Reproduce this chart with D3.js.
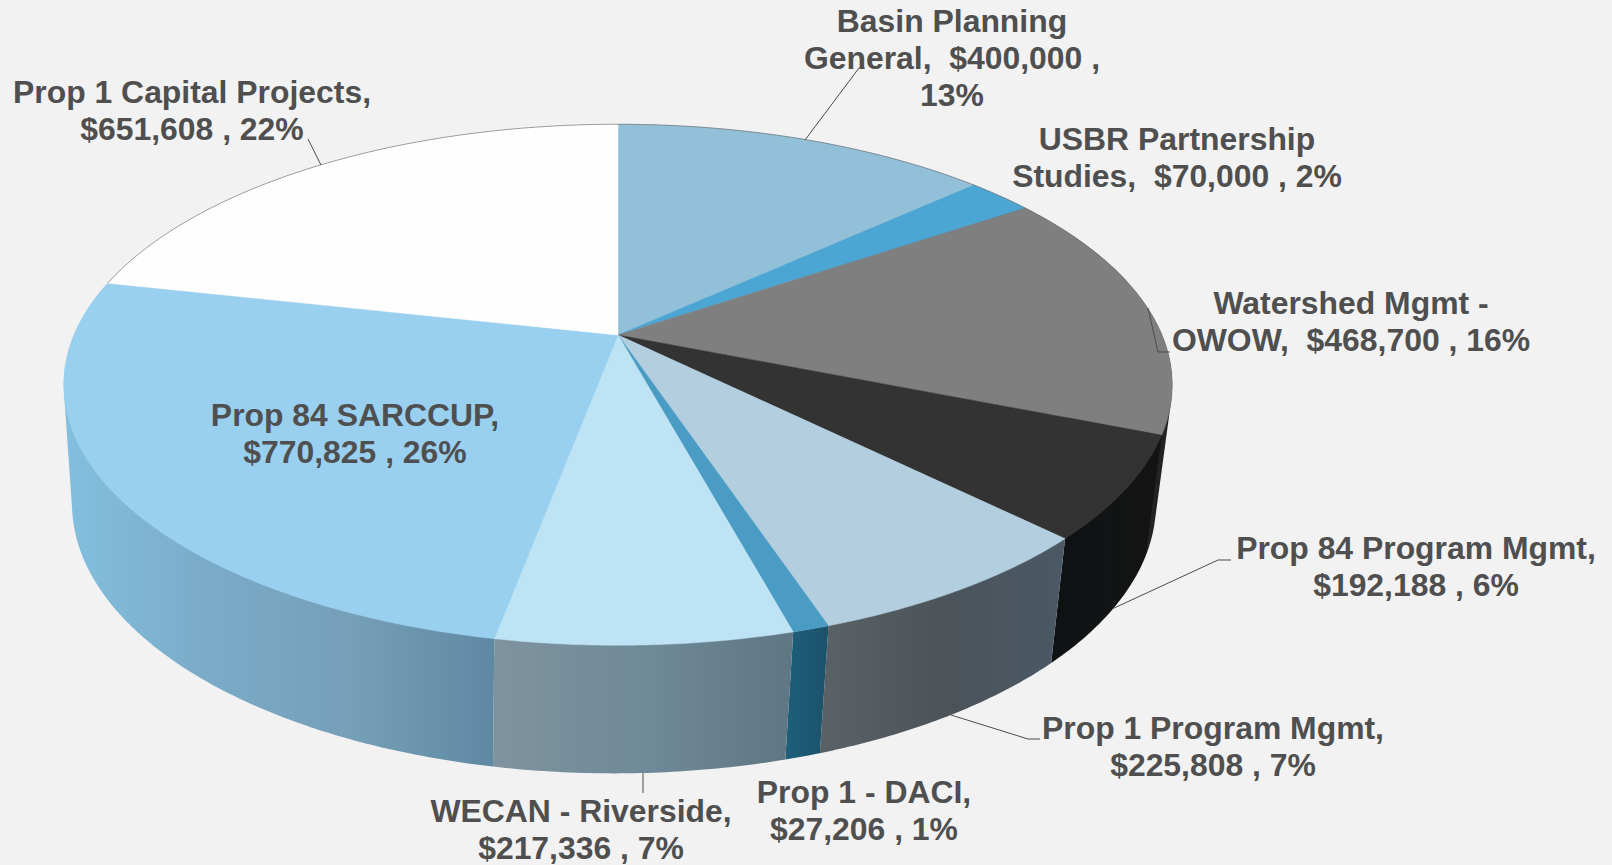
<!DOCTYPE html>
<html><head><meta charset="utf-8">
<style>html,body{margin:0;padding:0;background:#f2f2f2;overflow:hidden}svg{display:block}</style>
<script src="https://cdn.jsdelivr.net/npm/d3@7"></script></head><body>
<svg id="c" width="1612" height="865"></svg>
<script>
const categories=["Basin Planning General","USBR Partnership Studies","Watershed Mgmt - OWOW","Prop 84 Program Mgmt","Prop 1 Program Mgmt","Prop 1 - DACI","WECAN - Riverside","Prop 84 SARCCUP","Prop 1 Capital Projects"];
const values=[400000,70000,468700,192188,225808,27206,217336,770825,651608];
const percentLabels=["13%","2%","16%","6%","7%","1%","7%","26%","22%"];
const labelLines=[
 ["Basin Planning","General,  $400,000 ,","13%"],
 ["USBR Partnership","Studies,  $70,000 , 2%"],
 ["Watershed Mgmt -","OWOW,  $468,700 , 16%"],
 ["Prop 84 Program Mgmt,","$192,188 , 6%"],
 ["Prop 1 Program Mgmt,","$225,808 , 7%"],
 ["Prop 1 - DACI,","$27,206 , 1%"],
 ["WECAN - Riverside,","$217,336 , 7%"],
 ["Prop 84 SARCCUP,","$770,825 , 26%"],
 ["Prop 1 Capital Projects,","$651,608 , 22%"]];
const topColors=["#93c0d9","#4ba6d3","#7f7f7f","#333333","#b3cfdf","#4a9cc4","#bde3f5","#9ad0ef","#fefefe"];
const wallStops=[["#7d9fb2","#7d9fb2"],["#3a7d9e","#3a7d9e"],["#2a2a2a","#222222"],["#0f1213","#111314","#141312"],["#5a6167","#4c5359","#4a5965"],["#1e5f7c","#1b5269"],["#7f939f","#6f8a99","#5f7683"],["#84bfdf","#7aabc8","#769fb8","#5f88a2"],["#aaaaaa","#aaaaaa"]];
// label layout (page space)
const labelPos=[[952,32],[1177,150],[1351,314],[1416,559],[1213,739],[864,803],[581,822],[355,426],[192,103]];
const leaders=[[[805,140],[859,68],[865,68]],[],[[1148,308],[1158,352],[1170,352]],[[1112,609],[1218,560],[1231,560]],[[951,715],[1028,739],[1040,739]],[],[[643,773],[643,793]],[],[[321,165],[308,139]]];

const apex={x:618,y:335},R=544,persp=.191,tilt=251;
const lower={x:614,y:452,R:532,tilt:260};
const project=(a,low=false)=>{
  const x=Math.sin(a),z=-Math.cos(a),s=1/(1-persp*z);
  return low?[lower.x+lower.R*x*s,lower.y+lower.tilt*z*s]:[apex.x+R*x*s,apex.y+tilt*z*s];
};
const svg=d3.select("#c");
const defs=svg.append("defs");
const pie=d3.pie().sort(null).value(d=>d.v).startAngle(0).endAngle(2*Math.PI);
const arcs=pie(values.map((v,i)=>({v,i})));
const line=d3.line();
const samples=(a0,a1)=>{const n=Math.max(4,Math.ceil((a1-a0)/.01));return d3.range(n+1).map(i=>a0+(a1-a0)*i/n)};

arcs.forEach(d=>{
  const g=defs.append("linearGradient").attr("id","w"+d.index);
  const st=wallStops[d.index],sc=d3.scaleLinear().domain([0,st.length-1]).range([0,100]);
  st.forEach((c,j)=>g.append("stop").attr("offset",sc(j)+"%").attr("stop-color",c));
});
// walls back to front; each is the hull of its slice's upper and lower arcs
const wallOrder=[...arcs].sort((a,b)=>(-Math.cos((a.startAngle+a.endAngle)/2))-(-Math.cos((b.startAngle+b.endAngle)/2)));
svg.append("g").selectAll("path").data(wallOrder).join("path")
  .attr("d",d=>{const s=samples(d.startAngle,d.endAngle);
    return line(d3.polygonHull([...s.map(a=>project(a)),...s.map(a=>project(a,true))]))+"Z"})
  .attr("fill",d=>`url(#w${d.index})`);
// top faces
svg.append("g").selectAll("path").data(arcs).join("path")
  .attr("d",d=>line([[apex.x,apex.y],...samples(d.startAngle,d.endAngle).map(a=>project(a))])+"Z")
  .attr("fill",d=>topColors[d.index]).attr("stroke",d=>topColors[d.index]).attr("stroke-width",.5);
// thin back rim
svg.append("path").attr("d",line(samples(arcs[8].startAngle-2*Math.PI,1.35).map(a=>project(a)))).attr("fill","none").attr("stroke","#777").attr("stroke-width",.7);
// leaders
svg.append("g").selectAll("path").data(leaders.filter(l=>l.length)).join("path")
  .attr("d",d=>line(d)).attr("fill","none").attr("stroke","#4d4d4d").attr("stroke-width",1);
// labels
const lab=svg.append("g").attr("font-family","'Liberation Sans',Arial,sans-serif").attr("font-weight","bold").attr("font-size",31.9).attr("fill","#4f4f4f").attr("text-anchor","middle");
labelLines.forEach((ls,i)=>{
  const t=lab.append("text").attr("x",labelPos[i][0]).attr("y",labelPos[i][1]);
  ls.forEach((s,j)=>t.append("tspan").attr("x",labelPos[i][0]).attr("dy",j?37:0).style("white-space","pre").text(s));
});
</script></body></html>
